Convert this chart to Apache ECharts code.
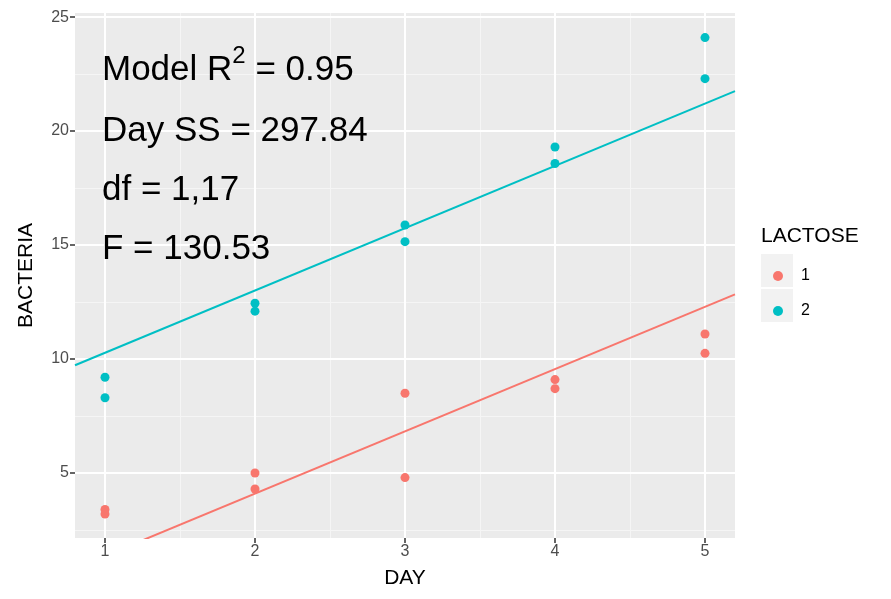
<!DOCTYPE html>
<html>
<head>
<meta charset="utf-8">
<script src="https://cdn.jsdelivr.net/npm/echarts@6/dist/echarts.min.js"></script>
<style>
	html, body { margin: 0; padding: 0; background: #fff; }
	#chart { width: 891px; height: 599px; }
</style>
</head>
<body>
<div id="chart"></div>
<script>
// two readings per day and lactose level
const days = [1, 1, 2, 2, 3, 3, 4, 4, 5, 5]
const lactose1 = [3.4, 3.2, 5.0, 4.3, 8.5, 4.8, 9.1, 8.7, 11.1, 10.25]
const lactose2 = [9.2, 8.3, 12.45, 12.1, 15.88, 15.15, 19.3, 18.58, 24.1, 22.3]

// fitted lines (DAY + LACTOSE), read at the panel edges
const fitX = [0.8, 5.2]
const fit1 = [0.82, 12.84]
const fit2 = [9.73, 21.75]

const xTicks = [1, 2, 3, 4, 5]
const xMinor = [1.5, 2.5, 3.5, 4.5]
const yTicks = [5, 10, 15, 20, 25]
const yMinor = [2.5, 7.5, 12.5, 17.5, 22.5]

const statLines = ['Model R{s|2} = 0.95', 'Day SS = 297.84', 'df = 1,17', 'F = 130.53']

const red = '#F8766D'
const teal = '#00BFC4'

const node = document.getElementById('chart')
const myChart = echarts.init(node)

const pairs = (xs, ys) => xs.map((x, i) => [x, ys[i]])

const gridLines = []
xMinor.forEach(v => gridLines.push({ xAxis: v, lineStyle: { type: 'solid', width: 1, color: '#f5f5f5' } }))
yMinor.forEach(v => gridLines.push({ yAxis: v, lineStyle: { type: 'solid', width: 1, color: '#f5f5f5' } }))
xTicks.forEach(v => gridLines.push({ xAxis: v, lineStyle: { type: 'solid', width: 2, color: '#ffffff' } }))
yTicks.forEach(v => gridLines.push({ yAxis: v, lineStyle: { type: 'solid', width: 2, color: '#ffffff' } }))

const option = {
	animation: false,
	backgroundColor: '#ffffff',
	grid: {
		left: 75,
		right: 156,
		top: 13,
		bottom: 61,
		show: true,
		backgroundColor: '#EBEBEB',
		borderWidth: 0
	},
	xAxis: {
		type: 'value',
		min: 0.8,
		max: 5.2,
		name: 'DAY',
		nameLocation: 'middle',
		nameGap: 30,
		nameTextStyle: { fontFamily: 'Liberation Sans', fontSize: 21, color: '#000' },
		axisLine: { show: false },
		axisTick: { show: true, customValues: xTicks, length: 5, lineStyle: { color: '#333', width: 1.5 } },
		axisLabel: { customValues: xTicks, fontFamily: 'Liberation Sans', fontSize: 16, color: '#4D4D4D', margin: 6 },
		splitLine: { show: false }
	},
	yAxis: {
		type: 'value',
		min: 2.15,
		max: 25.18,
		name: 'BACTERIA',
		nameLocation: 'middle',
		nameGap: 38,
		nameTextStyle: { fontFamily: 'Liberation Sans', fontSize: 21, color: '#000' },
		axisLine: { show: false },
		axisTick: { show: true, customValues: yTicks, length: 5, lineStyle: { color: '#333', width: 1.5 } },
		axisLabel: { customValues: yTicks, fontFamily: 'Liberation Sans', fontSize: 16, color: '#4D4D4D', margin: 6 },
		splitLine: { show: false }
	},
	legend: {
		orient: 'vertical',
		left: 768,
		top: 263,
		itemWidth: 10,
		itemHeight: 10,
		itemGap: 19,
		icon: 'circle',
		data: ['1', '2'],
		textStyle: { fontFamily: 'Liberation Sans', fontSize: 16, lineHeight: 16, color: '#000', padding: [0, 0, 0, 13] }
	},
	graphic: [
		{ type: 'text', left: 761, top: 226, style: { text: 'LACTOSE', font: '21px "Liberation Sans"', fill: '#000' } },
		{ type: 'rect', left: 761, top: 254, shape: { width: 32, height: 33 }, style: { fill: '#F2F2F2' }, z: -1 },
		{ type: 'rect', left: 761, top: 289, shape: { width: 32, height: 33 }, style: { fill: '#F2F2F2' }, z: -1 },
		...statLines.map((t, i) => ({
			type: 'text',
			left: 102,
			top: i === 0 ? 44 : 55 + i * 59,
			z: 100,
			style: {
				text: '{m|' + t.replace('{s|2}', '}{s|2}{m|') + '}',
				rich: {
					m: { fontFamily: 'Liberation Sans', fontSize: 35, lineHeight: 52, fill: '#000' },
					s: { fontFamily: 'Liberation Sans', fontSize: 24, lineHeight: 12, verticalAlign: 'top', fill: '#000' }
				}
			}
		}))
	],
	series: [
		{
			type: 'line',
			silent: true,
			data: [],
			markLine: {
				silent: true,
				symbol: 'none',
				label: { show: false },
				data: gridLines,
				z: 0
			},
			z: 0
		},
		{
			name: '1',
			type: 'scatter',
			symbolSize: 9,
			itemStyle: { color: red, opacity: 1 },
			data: pairs(days, lactose1),
			z: 3
		},
		{
			name: '2',
			type: 'scatter',
			symbolSize: 9,
			itemStyle: { color: teal, opacity: 1 },
			data: pairs(days, lactose2),
			z: 3
		},
		{
			type: 'line',
			symbol: 'none',
			clip: true,
			lineStyle: { color: red, width: 2 },
			data: pairs(fitX, fit1),
			z: 2
		},
		{
			type: 'line',
			symbol: 'none',
			clip: true,
			lineStyle: { color: teal, width: 2 },
			data: pairs(fitX, fit2),
			z: 2
		}
	]
}

myChart.setOption(option)

window.addEventListener('resize', () => {
	myChart.resize()
})
</script>
</body>
</html>
